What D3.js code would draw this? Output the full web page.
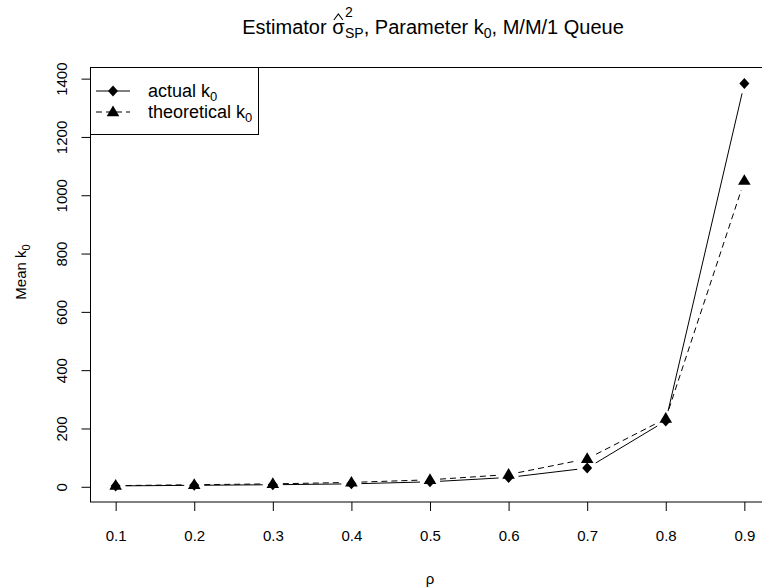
<!DOCTYPE html>
<html>
<head>
<meta charset="utf-8">
<script src="https://cdn.jsdelivr.net/npm/d3@7"></script>
<style>
  body { margin: 0; background: #fff; }
  svg { display: block; }
  text { font-family: "Liberation Sans", Arial, sans-serif; fill: #000; }
</style>
</head>
<body>
<svg id="chart" width="762" height="587"></svg>
<script>
const rho = [0.1, 0.2, 0.3, 0.4, 0.5, 0.6, 0.7, 0.8, 0.9]
const actualK0 = [3, 5, 7, 10, 17, 32, 64, 226, 1383]
const theoreticalK0 = [4, 7, 10, 15, 24, 42, 96, 234, 1050]
const xTicks = [0.1, 0.2, 0.3, 0.4, 0.5, 0.6, 0.7, 0.8, 0.9]
const yTicks = [0, 200, 400, 600, 800, 1000, 1200, 1400]

const svg = d3.select('#chart')

// plot region, R style with 4% padding on both axes
const box = { left: 90.5, right: 769.5, top: 67.5, bottom: 502 }
const xPad = (d3.max(rho) - d3.min(rho)) * 0.04
const allY = actualK0.concat(theoreticalK0)
const yPad = (d3.max(allY) - d3.min(allY)) * 0.04

const x = d3.scaleLinear()
    .domain([d3.min(rho) - xPad, d3.max(rho) + xPad])
    .range([box.left, box.right])
const y = d3.scaleLinear()
    .domain([d3.min(allY) - yPad, d3.max(allY) + yPad])
    .range([box.bottom, box.top])

// frame
svg.append('rect')
    .attr('x', box.left).attr('y', box.top)
    .attr('width', box.right - box.left).attr('height', box.bottom - box.top)
    .attr('fill', 'none').attr('stroke', '#000')

// axes
const xAxis = svg.append('g')
    .attr('transform', `translate(0,${box.bottom})`)
    .call(d3.axisBottom(x).tickValues(xTicks).tickSize(9).tickFormat(d3.format('.1f')))
xAxis.select('.domain').remove()
xAxis.selectAll('text').attr('font-size', 15).attr('dy', 0)
    .attr('y', 39).style('font-family', '"Liberation Sans", Arial, sans-serif')

const yAxis = svg.append('g')
    .attr('transform', `translate(${box.left},0)`)
    .call(d3.axisLeft(y).tickValues(yTicks).tickSize(9).tickFormat(d3.format('d')))
yAxis.select('.domain').remove()
yAxis.selectAll('text')
    .attr('font-size', 15)
    .attr('x', null).attr('dy', null)
    .attr('text-anchor', 'middle')
    .attr('transform', 'translate(-24,0) rotate(-90)')
    .attr('y', 0)
    .style('font-family', '"Liberation Sans", Arial, sans-serif')

// axis titles
svg.append('text')
    .attr('x', (box.left + box.right) / 2).attr('y', 584)
    .attr('text-anchor', 'middle').attr('font-size', 15)
    .text('ρ')

const ylab = svg.append('text')
    .attr('text-anchor', 'middle').attr('font-size', 15)
    .attr('transform', 'translate(26,272) rotate(-90)')
ylab.append('tspan').text('Mean k')
ylab.append('tspan').attr('font-size', 11).attr('dy', 4).text('0')

// title, laid out piece by piece like plotmath
function title() {
    const g = svg.append('g')
    const base = 34
    const fs = 20, small = 14
    const space = fs * 0.278
    let cx = 0
    function piece(str, size, dy) {
        const t = g.append('text').attr('x', cx).attr('y', base + dy)
            .attr('font-size', size).text(str)
        return t.node().getComputedTextLength()
    }
    cx += piece('Estimator', fs, 0) + space
    const sigW = piece('σ', fs, 0)
    // hat over sigma
    const hx = cx + sigW / 2
    g.append('path')
        .attr('d', `M${hx - 4.5},${base - 14}L${hx},${base - 20}L${hx + 4.5},${base - 14}`)
        .attr('fill', 'none').attr('stroke', '#000').attr('stroke-width', 1.1)
    cx += sigW + 0.5
    const supW = piece('2', small, -17)
    const subW = piece('SP', small, 4)
    cx += Math.max(supW, subW)
    cx += piece(', Parameter k', fs, 0)
    cx += piece('0', small, 4)
    cx += piece(', M/M/1 Queue', fs, 0)
    g.attr('transform', `translate(${433 - cx / 2},0)`)
}
title()

// type = "b": segments with gaps around points
function gappedSegments(values, gap) {
    const pts = rho.map((r, i) => [x(r), y(values[i])])
    const segs = []
    for (let i = 0; i < pts.length - 1; i++) {
        const [x1, y1] = pts[i], [x2, y2] = pts[i + 1]
        const len = Math.hypot(x2 - x1, y2 - y1)
        if (len <= 2 * gap) continue
        const ux = (x2 - x1) / len, uy = (y2 - y1) / len
        segs.push([x1 + ux * gap, y1 + uy * gap, x2 - ux * gap, y2 - uy * gap])
    }
    return segs
}

function drawSeries(values, dash, symbol) {
    const g = svg.append('g')
    g.selectAll('line').data(gappedSegments(values, 10)).enter().append('line')
        .attr('x1', s => s[0]).attr('y1', s => s[1])
        .attr('x2', s => s[2]).attr('y2', s => s[3])
        .attr('stroke', '#000').attr('stroke-width', 1)
        .attr('stroke-dasharray', dash)
    g.selectAll('path').data(values).enter().append('path')
        .attr('d', symbol)
        .attr('transform', (v, i) => `translate(${x(rho[i])},${y(v)})`)
        .attr('fill', '#000')
}

const diamond = 'M0,-5.5L5,0L0,5.5L-5,0Z'
const triangle = 'M0,-6.5L6.3,4.2L-6.3,4.2Z'

drawSeries(actualK0, null, diamond)
drawSeries(theoreticalK0, '6,4', triangle)

// legend
const leg = { left: box.left, top: box.top, width: 168, height: 67 }
svg.append('rect')
    .attr('x', leg.left).attr('y', leg.top)
    .attr('width', leg.width).attr('height', leg.height)
    .attr('fill', '#fff').attr('stroke', '#000')

const legendItems = [
    { label: 'actual k', dash: null, symbol: diamond },
    { label: 'theoretical k', dash: '6,4', symbol: triangle }
]
legendItems.forEach((item, i) => {
    const cy = 91 + i * 21
    svg.append('line')
        .attr('x1', 96).attr('x2', 130).attr('y1', cy).attr('y2', cy)
        .attr('stroke', '#000').attr('stroke-dasharray', item.dash)
    svg.append('path').attr('d', item.symbol)
        .attr('transform', `translate(113,${cy})`).attr('fill', '#000')
    const t = svg.append('text').attr('x', 148).attr('y', cy + 6).attr('font-size', 18)
    t.append('tspan').text(item.label)
    t.append('tspan').attr('font-size', 13).attr('dy', 4).text('0')
})
</script>
</body>
</html>
